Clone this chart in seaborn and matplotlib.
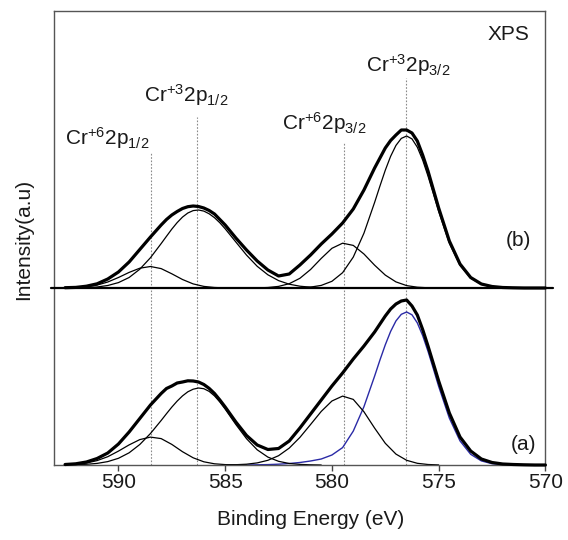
import numpy as np
import pandas as pd
import matplotlib
matplotlib.use("Agg")
import matplotlib.pyplot as plt
import seaborn as sns

# ---------------- data ----------------
N = None
# coarse binding-energy grid (eV) for the small components
energy = [592.5, 592.0, 591.5, 591.0, 590.5, 590.0, 589.5, 589.0, 588.5, 588.0,
          587.5, 587.0, 586.5, 586.0, 585.5, 585.0, 584.5, 584.0, 583.5, 583.0,
          582.5, 582.0, 581.5, 581.0, 580.5, 580.0, 579.5, 579.0, 578.5, 578.0,
          577.5, 577.0, 576.5, 576.0, 575.5, 575.0, 574.5, 574.0, 573.5, 573.0,
          572.5, 572.0, 571.5, 571.0, 570.5, 570.0]
# finer grid around the two main peaks (envelopes and Cr3+ components)
energy_fine = [592.5, 592.0, 591.5, 591.0, 590.5, 590.0, 589.5, 589.0, 588.5, 588.0,
               587.75, 587.5, 587.25, 587.0, 586.75, 586.5, 586.25, 586.0, 585.75, 585.5,
               585.25, 585.0, 584.5, 584.0, 583.5, 583.0, 582.5, 582.0, 581.5, 581.0,
               580.5, 580.0, 579.5, 579.0, 578.5, 578.0, 577.75, 577.5, 577.25, 577.0,
               576.75, 576.5, 576.25, 576.0, 575.75, 575.5, 575.25, 575.0, 574.5, 574.0,
               573.5, 573.0, 572.5, 572.0, 571.5, 571.0, 570.5, 570.0]

# spectrum (a)
total_a = [0.5, 1.2, 3, 6.5, 12, 21, 33, 46.5, 60, 71.5,
           76.5, 79, 82, 83, 84.2, 84, 83, 80.5, 76.6, 71.5,
           65, 58, 43, 29.5, 20, 15.5, 16.5, 24, 37, 51,
           65, 79, 92, 106, 119, 133, 141, 149, 156, 161,
           164, 165, 159, 150, 135.5, 119, 101.5, 84, 52, 28,
           14, 6, 2.5, 1, 0.5, 0.2, 0, 0]
cr3_2p12_a = [0.1, 0.3, 0.7, 1.6, 3.4, 6.7, 12.2, 20.5, 31.5, 44.5,
              51.3, 57.9, 63.9, 69.1, 73.2, 75.8, 77.0, 76.3, 73.6, 69.1,
              63.0, 55.9, 40.5, 26.3, 15.2, 7.9, 3.7, 1.5, 0.6, 0.2, 0] + [N] * 27
cr3_2p32_a = [N] * 21 + [0, 0, 0, 0.2, 0.4, 0.8, 1.5, 2.5, 4.0, 6.0,
                         10.0, 17.4, 33.9, 58.3, 88.9, 105.0, 120.2, 133.6, 144.1, 150.7,
                         153.0, 150.2, 142.1, 129.5, 113.8, 96.4, 78.6, 46.9, 24.1, 10.7,
                         4.1, 1.3, 0.4, 0.1, 0] + [N] * 2
cr6_2p12_a = [0.3, 0.8, 2.0, 4.4, 8.3, 13.9, 20.1, 25.4, 27.9, 26.4, 20.6, 13.3, 7.2,
              3.2, 1.2, 0.4, 0.1, 0] + [N] * 28
cr6_2p32_a = [N] * 15 + [0.1, 0.3, 0.8, 2.1, 4.7, 9.3, 16.9, 27.6, 40.5, 53.6, 64.0,
                         68.9, 65.6, 53.2, 36.9, 21.7, 10.9, 4.7, 1.7, 0.5, 0.1] + [N] * 10

# spectrum (b)
total_b = [0.3, 0.6, 1.8, 4.2, 9, 16, 26, 38.5, 51, 63,
           68.5, 73, 76.5, 79.5, 81.3, 82, 81.5, 80, 77.5, 74,
           68.5, 63, 50, 38, 27, 18, 12, 14, 23, 33,
           44, 54, 65, 79, 98, 120, 130, 140, 147.5, 153,
           158, 158, 155, 147, 133, 117, 98.5, 80, 47, 24,
           10.5, 4, 1.5, 0.5, 0.2, 0, 0, 0]
cr3_2p12_b = [0.0, 0.1, 0.4, 1.0, 2.5, 5.4, 10.5, 18.8, 30.3, 44.4,
              51.7, 58.9, 65.4, 70.9, 75.0, 77.4, 78.0, 76.9, 74.2, 70.3,
              65.2, 59.2, 46.0, 32.9, 21.7, 13.2, 7.4, 3.8, 1.8, 0.8,
              0.3, 0.1] + [N] * 26
cr3_2p32_b = [N] * 25 + [0, 0, 0.1, 0.3, 0.9, 2.6, 6.7, 15.3, 30.9, 54.8,
                         85.6, 102.0, 117.8, 131.7, 142.6, 149.6, 152.0, 149.1, 140.8, 128.0,
                         112.0, 94.4, 76.5, 44.8, 22.6, 9.8, 3.6, 1.2, 0.3, 0.1, 0] + [N] * 2
cr6_2p12_b = [0.1, 0.4, 1.2, 2.9, 6.0, 10.5, 15.6, 19.8, 21.5, 19.4, 14.2, 8.5, 4.1,
              1.6, 0.5, 0.1, 0] + [N] * 29
cr6_2p32_b = [N] * 17 + [0, 0.1, 0.5, 1.6, 4.3, 9.7, 18.5, 29.6, 39.7, 44.8, 42.6, 34.0,
                         22.8, 12.9, 6.1, 2.4, 0.8, 0.2, 0, 0, 0] + [N] * 8

# peak positions (eV) and labels
peak_energy = [588.47, 586.30, 579.42, 576.53]
peak_labels = [r"Cr$\mathregular{^{+6}}$2p$\mathregular{_{1/2}}$",
               r"Cr$\mathregular{^{+3}}$2p$\mathregular{_{1/2}}$",
               r"Cr$\mathregular{^{+6}}$2p$\mathregular{_{3/2}}$",
               r"Cr$\mathregular{^{+3}}$2p$\mathregular{_{3/2}}$"]
x_ticks = [590, 585, 580, 575, 570]

# ---------------- layout / style ----------------
OFFSET_B = 177          # vertical offset of spectrum (b)
label_pos = [(592.5, 320), (588.8, 363), (582.33, 335), (578.39, 393)]
line_top = [313, 348, 322, 387]

sns.set_theme(style="white")
plt.rcParams["font.family"] = ["Liberation Sans", "DejaVu Sans"]
plt.rcParams["mathtext.fontset"] = "custom"
plt.rcParams["mathtext.rm"] = "Liberation Sans"
plt.rcParams["mathtext.it"] = "Liberation Sans:italic"
FS = 15
TXT = "#1a1a1a"

fig = plt.figure(figsize=(5.68, 5.40), dpi=100)
ax = fig.add_axes([54.4 / 568, 1 - 465 / 540, 491 / 568, 454 / 540])
ax.set_xlim(593, 570)
ax.set_ylim(0, 454)


def arr(v):
    return np.array([np.nan if x is None else x for x in v], dtype=float)


def curve(xs, ys, off, color="black", lw=0.9, z=2):
    x = np.array(xs, dtype=float)
    y = arr(ys)
    m = ~np.isnan(y)
    df = pd.DataFrame({"E": x[m], "I": y[m] + off})
    sns.lineplot(data=df, x="E", y="I", ax=ax, color=color, lw=lw,
                 estimator=None, sort=False, zorder=z)
    ax.lines[-1].set_clip_on(False)


# dotted guide lines at peak positions
for pe, top in zip(peak_energy, line_top):
    ax.plot([pe, pe], [0, top], color="#8a8a8a", lw=0.8,
            linestyle=(0, (1.5, 1.5)), zorder=1)

# fitted components
curve(energy, cr6_2p12_b, OFFSET_B)
curve(energy, cr6_2p32_b, OFFSET_B)
curve(energy_fine, cr3_2p12_b, OFFSET_B)
curve(energy_fine, cr3_2p32_b, OFFSET_B)
curve(energy_fine, cr3_2p32_a, 0, color="#2a2aa6", lw=1.0)
curve(energy, cr6_2p12_a, 0)
curve(energy, cr6_2p32_a, 0)
curve(energy_fine, cr3_2p12_a, 0)

# experimental envelopes
curve(energy_fine, total_a, 0, lw=2.3, z=3)
curve(energy_fine, total_b, OFFSET_B, lw=2.3, z=3)

# baseline of spectrum (b)
ax.axhline(OFFSET_B, xmin=-0.007, xmax=1.015, color="black", lw=1.6,
           clip_on=False, zorder=3)

# labels
for (lx, ly), txt in zip(label_pos, peak_labels):
    ax.text(lx, ly, txt, fontsize=FS, ha="left", va="baseline", color=TXT)
ax.text(570.75, 425, "XPS", fontsize=FS, ha="right", va="baseline", color=TXT)
ax.text(571.87, 225, "(b)", fontsize=FS, ha="left", va="center", color=TXT)
ax.text(571.6, 20.5, "(a)", fontsize=FS, ha="left", va="center", color=TXT)

# axes styling
ax.set_xticks(x_ticks)
ax.set_xticklabels([str(t) for t in x_ticks], fontsize=FS, color=TXT)
ax.set_yticks([])
ax.set_xlabel("")
ax.set_ylabel("")
ax.tick_params(axis="x", direction="out", length=4, width=1, pad=1.5,
               bottom=True, color="#444444")
for s in ax.spines.values():
    s.set_color("#555555")
    s.set_linewidth(1.0)
    s.set_visible(True)

fig.text(24 / 568, 1 - 239 / 540, "Intensity(a.u)", rotation=90, fontsize=FS,
         ha="center", va="center", color=TXT)
fig.text(311 / 568, 1 - 525 / 540, "Binding Energy (eV)", fontsize=FS,
         ha="center", va="baseline", color=TXT)

fig.savefig("out.png", dpi=100)
